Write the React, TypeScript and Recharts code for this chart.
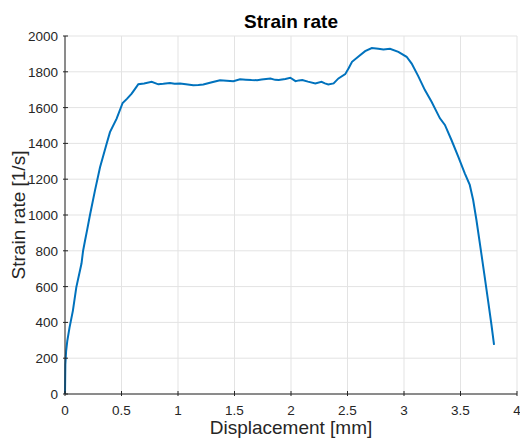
import React from "react";
import { LineChart, Line, XAxis, YAxis, CartesianGrid } from "recharts";

const displacement = [
  0, 0.003, 0.01, 0.02, 0.04, 0.07, 0.1, 0.146, 0.16, 0.177, 0.196, 0.221, 0.265, 0.31, 0.369, 0.398,
  0.457, 0.51, 0.55, 0.59, 0.62, 0.649, 0.7, 0.767, 0.826,
  0.87, 0.929, 0.97, 1.018, 1.07, 1.135, 1.18, 1.224, 1.3, 1.372, 1.43, 1.49, 1.549, 1.6, 1.65, 1.7,
  1.74, 1.818, 1.86, 1.891, 1.95, 1.994, 2.04, 2.07, 2.1, 2.15, 2.215, 2.27, 2.3, 2.33, 2.377, 2.42,
  2.48, 2.51, 2.54, 2.6, 2.656, 2.715, 2.773, 2.818, 2.876, 2.95, 3.023, 3.068, 3.126, 3.185, 3.244,
  3.318, 3.362, 3.42, 3.48, 3.538, 3.582, 3.612, 3.641, 3.68, 3.71, 3.744, 3.773, 3.797,
];
const strainRate = [
  0, 165, 240, 296, 371, 466, 596, 729, 800, 856, 917, 1000, 1136, 1267, 1400, 1463,
  1538, 1626, 1650, 1678, 1705, 1731, 1735, 1744, 1730,
  1733, 1738, 1733, 1734, 1730, 1725, 1726, 1729, 1742, 1753, 1750, 1747, 1758, 1756, 1754, 1753,
  1757, 1763, 1755, 1754, 1760, 1767, 1748, 1752, 1754, 1745, 1735, 1744, 1735, 1729, 1735, 1763,
  1787, 1820, 1856, 1887, 1915, 1933, 1929, 1924, 1929, 1911, 1884, 1846, 1776, 1698, 1633,
  1540, 1503, 1419, 1326, 1233, 1168, 1084, 972, 804, 672, 522, 391, 274,
];
const xTicks = [0, 0.5, 1, 1.5, 2, 2.5, 3, 3.5, 4];
const yTicks = [0, 200, 400, 600, 800, 1000, 1200, 1400, 1600, 1800, 2000];

const data = displacement.map((x, i) => ({ x, y: strainRate[i] }));

const FONT = "'Liberation Sans', Arial, Helvetica, sans-serif";
const AXIS = "#262626";
const TICKLEN = 5;
const TICKFONT = 13.5;

const BottomTick = (props: any) => {
  const { x, y, payload } = props;
  return (
    <g>
      <line x1={x} x2={x} y1={y} y2={y - TICKLEN} stroke={AXIS} strokeWidth={1} />
      <text x={x} y={y + 19} textAnchor="middle" fontSize={TICKFONT} fontFamily={FONT} fill={AXIS}>
        {String(payload.value)}
      </text>
    </g>
  );
};
const TopTick = (props: any) => {
  const { x, y } = props;
  return <line x1={x} x2={x} y1={y} y2={y + TICKLEN} stroke={AXIS} strokeWidth={1} />;
};
const LeftTick = (props: any) => {
  const { x, y, payload } = props;
  return (
    <g>
      <line x1={x} x2={x + TICKLEN} y1={y} y2={y} stroke={AXIS} strokeWidth={1} />
      <text x={x - 5} y={y + 5} textAnchor="end" fontSize={TICKFONT} fontFamily={FONT} fill={AXIS}>
        {String(payload.value)}
      </text>
    </g>
  );
};
const RightTick = (props: any) => {
  const { x, y } = props;
  return <line x1={x} x2={x - TICKLEN} y1={y} y2={y} stroke={AXIS} strokeWidth={1} />;
};

export default function App() {
  return (
    <div style={{ position: "absolute", left: 0, top: 0, width: 520, height: 440, background: "#fff" }}>
      <div
        style={{
          position: "absolute",
          left: 65,
          width: 452,
          top: 11,
          textAlign: "center",
          fontFamily: FONT,
          fontWeight: "bold",
          fontSize: 19,
          color: "#000",
        }}
      >
        Strain rate
      </div>
      <LineChart width={520} height={440} data={data} margin={{ top: 36, right: 3, bottom: 0, left: 0 }}>
        <CartesianGrid stroke="#e3e3e3" strokeWidth={1} />
        <XAxis
          dataKey="x"
          type="number"
          domain={[0, 4]}
          ticks={xTicks}
          height={46}
          tickSize={0}
          tickLine={false}
          axisLine={{ stroke: AXIS }}
          tick={<BottomTick />}
          interval={0}
          label={{
            value: "Displacement [mm]",
            position: "insideBottom",
            offset: 6,
            style: { fontFamily: FONT, fontSize: 19, fill: AXIS },
          }}
        />
        <XAxis
          xAxisId="top"
          orientation="top"
          dataKey="x"
          type="number"
          domain={[0, 4]}
          ticks={xTicks}
          height={0}
          tickSize={0}
          tickLine={false}
          axisLine={{ stroke: AXIS }}
          tick={<TopTick />}
          interval={0}
        />
        <YAxis
          type="number"
          domain={[0, 2000]}
          ticks={yTicks}
          width={65}
          tickSize={0}
          tickLine={false}
          axisLine={{ stroke: AXIS }}
          tick={<LeftTick />}
          interval={0}
          label={{
            value: "Strain rate [1/s]",
            angle: -90,
            position: "insideLeft",
            offset: 18,
            style: { fontFamily: FONT, fontSize: 19, fill: AXIS, textAnchor: "middle" },
          }}
        />
        <YAxis
          yAxisId="right"
          orientation="right"
          type="number"
          domain={[0, 2000]}
          ticks={yTicks}
          width={0}
          tickSize={0}
          tickLine={false}
          axisLine={{ stroke: AXIS }}
          tick={<RightTick />}
          interval={0}
        />
        <Line
          dataKey="y"
          type="linear"
          stroke="#0072BD"
          strokeWidth={2}
          dot={false}
          isAnimationActive={false}
        />
      </LineChart>
    </div>
  );
}
